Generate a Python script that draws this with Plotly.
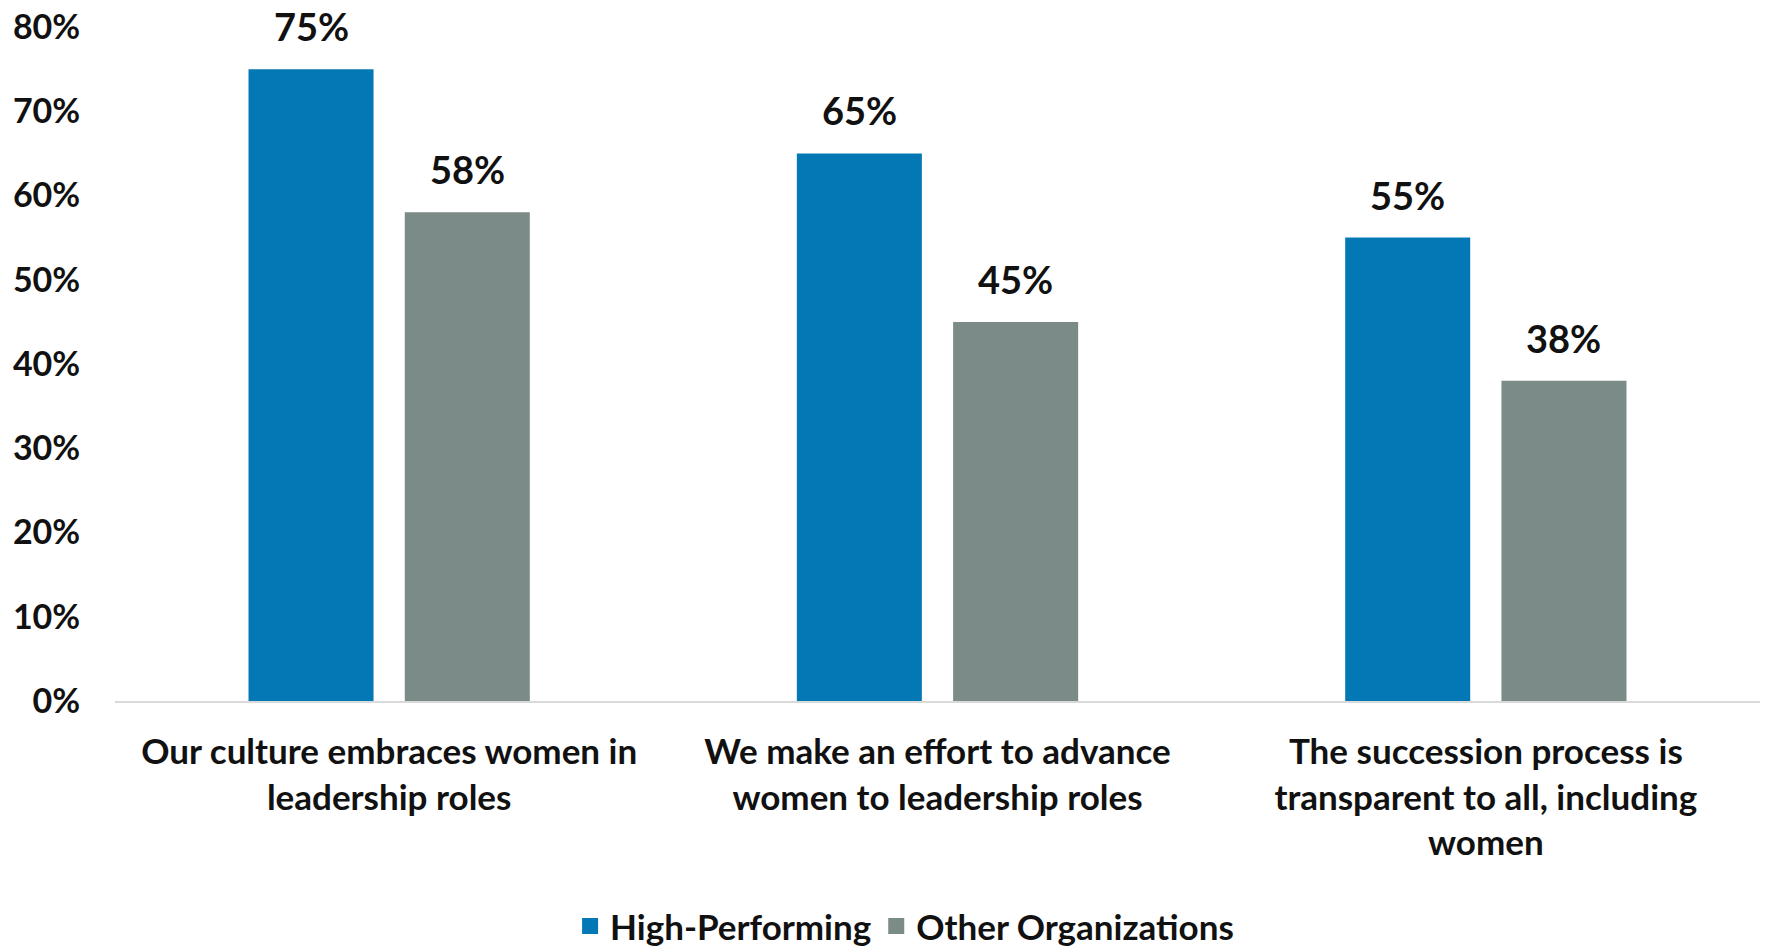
import plotly.graph_objects as go

categories = [
    "Our culture embraces women in<br>leadership roles",
    "We make an effort to advance<br>women to leadership roles",
    "The succession process is<br>transparent to all, including<br>women",
]
high_performing = [0.75, 0.65, 0.55]
other_orgs = [0.58, 0.45, 0.38]
series_names = ["High-Performing", "Other Organizations"]
y_ticks = [0, 0.1, 0.2, 0.3, 0.4, 0.5, 0.6, 0.7, 0.8]

BLUE = "#0478B5"
GRAY = "#7A8B88"
FONT = "Lato"
TXT = "#111111"

fig = go.Figure()
for vals, name, color in ((high_performing, series_names[0], BLUE),
                          (other_orgs, series_names[1], GRAY)):
    fig.add_trace(go.Bar(x=categories, y=vals, name=name, showlegend=False,
                         marker=dict(color=color, line=dict(width=0))))
# legend entries with larger square swatches
for name, color in zip(series_names, (BLUE, GRAY)):
    fig.add_trace(go.Scatter(x=[None], y=[None], mode="markers", name=name,
                             marker=dict(symbol="square", size=17, color=color)))

# data labels
for vals, shift in ((high_performing, -78), (other_orgs, 78)):
    for c, v in zip(categories, vals):
        fig.add_annotation(x=c, y=v, xref="x", yref="y", text=f"{round(v*100)}%",
                           showarrow=False, xshift=shift, yshift=18, yanchor="bottom",
                           font=dict(family=FONT, size=38, color=TXT, weight="bold"))

fig.update_layout(
    width=1765, height=946,
    margin=dict(l=115, r=5, t=27, b=245, autoexpand=False),
    paper_bgcolor="white", plot_bgcolor="white",
    barmode="group", bargap=0.43, bargroupgap=0.2,
    font=dict(family=FONT, color=TXT),
    showlegend=True,
    legend=dict(orientation="h", x=0.48, xanchor="center",
                yref="container", y=0.021, yanchor="middle",
                font=dict(family=FONT, size=35, color=TXT, weight="bold"),
                itemwidth=30, traceorder="normal"),
)
fig.update_yaxes(range=[0, 0.8], tickvals=y_ticks, tickformat=".0%",
                 showgrid=False, zeroline=False, showline=False, automargin=False,
                 ticks="outside", ticklen=27, tickcolor="rgba(0,0,0,0)",
                 tickfont=dict(family=FONT, size=34, color=TXT, weight="bold"))
fig.update_xaxes(showgrid=False, showline=True, linecolor="#D9D9D9", linewidth=2,
                 automargin=False,
                 ticks="outside", ticklen=19, tickcolor="rgba(0,0,0,0)",
                 tickfont=dict(family=FONT, size=35, color=TXT, weight="bold"))

fig.write_html("out.html")
